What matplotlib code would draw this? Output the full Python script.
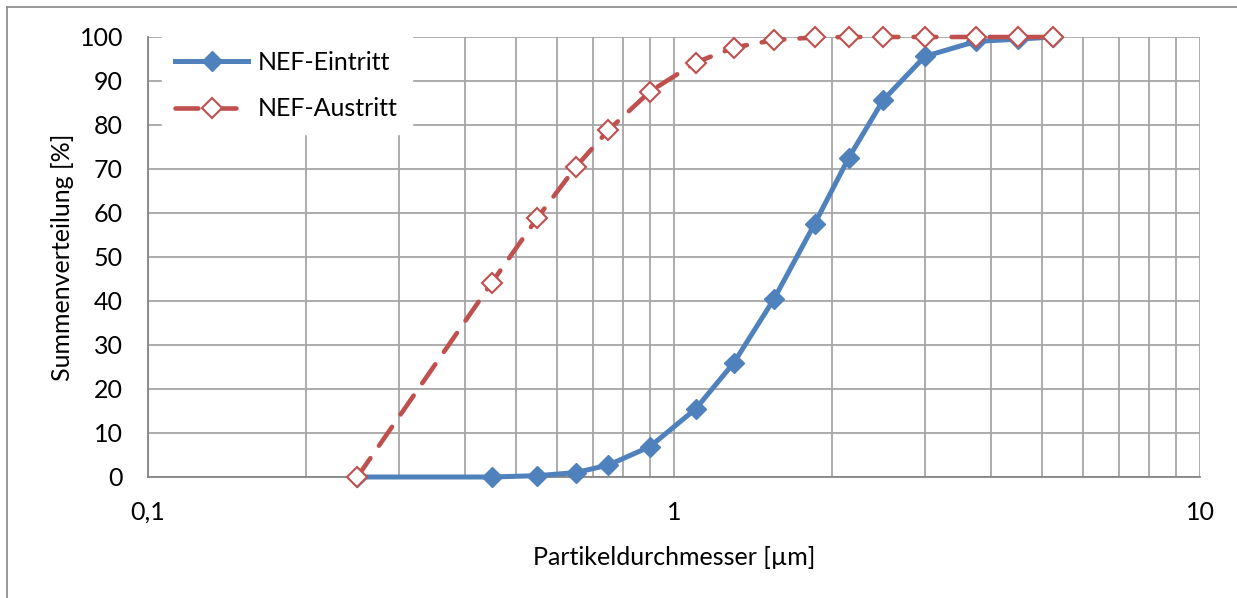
import numpy as np
import matplotlib.pyplot as plt
from matplotlib.lines import Line2D
from matplotlib.ticker import FixedLocator, FixedFormatter, LogLocator, NullFormatter

plt.rcParams['font.family'] = ['Lato', 'DejaVu Sans']

# Particle diameter [um]
durchmesser = [0.25, 0.45, 0.55, 0.65, 0.75, 0.90, 1.10, 1.30, 1.55, 1.85,
               2.15, 2.50, 3.00, 3.75, 4.50, 5.25]
# Cumulative distribution [%]
eintritt = [0.0, 0.0, 0.3, 1.0, 2.7, 6.9, 15.5, 26.0, 40.5, 57.5,
            72.6, 85.7, 95.6, 99.0, 99.5, 100.0]
austritt = [0.0, 44.1, 58.9, 70.4, 78.8, 87.6, 94.2, 97.6, 99.3, 99.9,
            100.0, 100.0, 100.0, 100.0, 100.0, 100.0]

blue = '#4F81BD'
red = '#C0504D'
grid_col = '#A6A6A6'
fs = 18

fig = plt.figure(figsize=(12.37, 5.98), dpi=100)
ax = fig.add_axes([148/1237, 1 - 477/598, (1200 - 148)/1237, (477 - 37)/598])

ax.plot(durchmesser, eintritt, color=blue, lw=3.6, marker='D', ms=10,
        mfc=blue, mec=blue, label='NEF-Eintritt', zorder=3, clip_on=False)
ax.plot(durchmesser, austritt, color=red, lw=3.3, ls=(0, (5, 3.3)),
        dash_capstyle='round', marker='D', ms=10, mfc='white', mec=red,
        mew=1.5, label='NEF-Austritt', zorder=4, clip_on=False)

ax.set_xscale('log')
ax.set_xlim(0.1, 10)
ax.set_ylim(0, 100)
ax.set_yticks(np.arange(0, 101, 10))
ax.xaxis.set_major_locator(FixedLocator([0.1, 1, 10]))
ax.xaxis.set_major_formatter(FixedFormatter(['0,1', '1', '10']))
ax.xaxis.set_minor_locator(LogLocator(base=10, subs=np.arange(2, 10)))
ax.xaxis.set_minor_formatter(NullFormatter())

ax.grid(True, which='both', axis='x', color=grid_col, lw=1.3)
ax.grid(True, which='major', axis='y', color=grid_col, lw=1.3)
ax.set_axisbelow(True)
for s in ['top', 'right']:
    ax.spines[s].set_visible(False)
for s in ['left', 'bottom']:
    ax.spines[s].set_color('#868686')
    ax.spines[s].set_linewidth(1.3)
ax.tick_params(which='both', length=0, labelsize=fs)
ax.tick_params(axis='x', pad=17)
ax.tick_params(axis='y', pad=18)

ax.set_xlabel('Partikeldurchmesser [µm]', fontsize=fs, labelpad=16)
ax.set_ylabel('Summenverteilung [%]', fontsize=fs, labelpad=4)

leg = ax.legend(loc='upper left', bbox_to_anchor=(0.013, 1.0), borderaxespad=0,
                fontsize=fs, frameon=True, fancybox=False, handlelength=2.9,
                handletextpad=0.4, labelspacing=0.95, borderpad=0.55)
leg.get_frame().set_edgecolor('white')
leg.get_frame().set_alpha(1)
leg.set_zorder(5)

# chart area border
fig.add_artist(Line2D([7/1237, 7/1237], [0, 1 - 7/598], color='#868686', lw=1.2))
fig.add_artist(Line2D([7/1237, 1], [1 - 7/598, 1 - 7/598], color='#868686', lw=1.2))

fig.savefig('out.png', dpi=100)
